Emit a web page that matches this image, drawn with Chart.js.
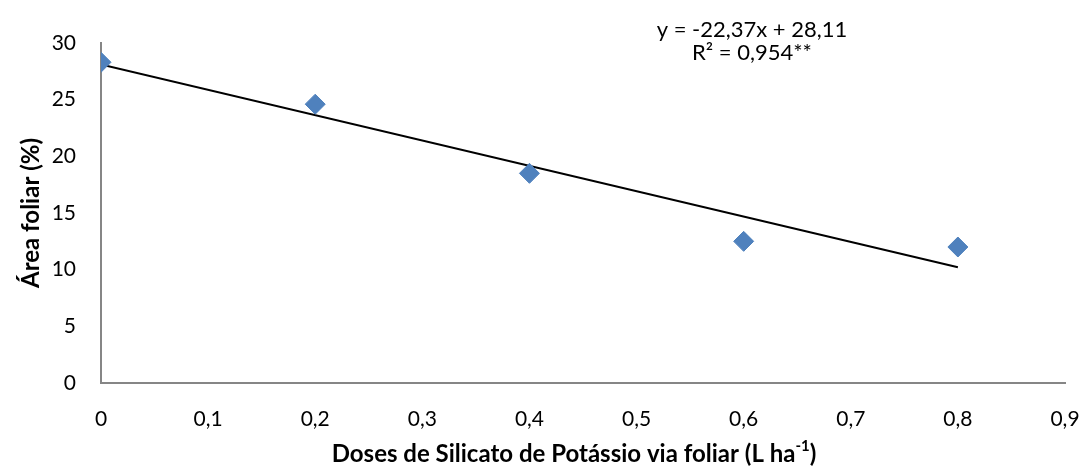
<!DOCTYPE html>
<html>
<head>
<meta charset="utf-8">
<script src="https://cdn.jsdelivr.net/npm/chart.js@4.4.1/dist/chart.umd.min.js"></script>
<style>
  html, body { margin: 0; padding: 0; background: #fff; }
  #wrap { width: 1084px; height: 468px; position: relative; }
</style>
</head>
<body>
<div id="wrap"><canvas id="c" width="1084" height="468"></canvas></div>
<script>
// Doses of potassium silicate (L/ha) and leaf area (%)
const doses = [0, 0.2, 0.4, 0.6, 0.8];
const leafArea = [28.3, 24.6, 18.5, 12.5, 12.0];

// Linear fit y = a*x + b
const fitSlope = -22.37;
const fitIntercept = 28.11;
const fitRange = [0, 0.8];

const eqLines = ['y = -22,37x + 28,11', 'R\u00B2 = 0,954**'];
const yTitle = '\u00C1rea foliar (%)';
const xTitleMain = 'Doses de Silicato de Pot\u00E1ssio via foliar (L ha';
const xTitleSup = '-1';
const xTitleEnd = ')';

const FONT = 'Lato, "Open Sans", sans-serif';
const fmt = v => String(Math.round(v * 10) / 10).replace('.', ',');

const fitPoints = fitRange.map(x => ({ x: x, y: fitSlope * x + fitIntercept }));

const annotations = {
  id: 'annotations',
  afterDraw(chart) {
    const ctx = chart.ctx;
    const ys = chart.scales.y;
    ctx.save();
    ctx.fillStyle = '#000';
    // regression equation
    ctx.font = '22px ' + FONT;
    ctx.textAlign = 'center';
    ctx.textBaseline = 'middle';
    ctx.fillText(eqLines[0], 752, 30);
    ctx.fillText(eqLines[1], 752, 53);
    // y title
    ctx.font = 'bold 24px ' + FONT;
    ctx.translate(31, (ys.top + ys.bottom) / 2);
    ctx.rotate(-Math.PI / 2);
    ctx.fillText(yTitle, 0, 0);
    ctx.setTransform(1, 0, 0, 1, 0, 0);
    // x title with superscript
    const cx = 574;
    const ty = 454;
    ctx.font = 'bold 24px ' + FONT;
    const w1 = ctx.measureText(xTitleMain).width;
    const w3 = ctx.measureText(xTitleEnd).width;
    ctx.font = 'bold 15px ' + FONT;
    const w2 = ctx.measureText(xTitleSup).width;
    const x0 = cx - (w1 + w2 + w3) / 2;
    ctx.textAlign = 'left';
    ctx.font = 'bold 24px ' + FONT;
    ctx.fillText(xTitleMain, x0, ty);
    ctx.font = 'bold 15px ' + FONT;
    ctx.fillText(xTitleSup, x0 + w1, ty - 8);
    ctx.font = 'bold 24px ' + FONT;
    ctx.fillText(xTitleEnd, x0 + w1 + w2, ty);
    ctx.restore();
  }
};

new Chart(document.getElementById('c'), {
  type: 'scatter',
  data: {
    datasets: [
      {
        type: 'line',
        data: fitPoints,
        borderColor: '#000',
        borderWidth: 2,
        pointRadius: 0,
        fill: false,
        order: 2
      },
      {
        data: doses.map((x, i) => ({ x: x, y: leafArea[i] })),
        pointStyle: 'rectRot',
        pointRadius: 10,
        pointHoverRadius: 10,
        backgroundColor: '#4F81BD',
        borderColor: '#4F81BD',
        borderWidth: 1,
        order: 1
      }
    ]
  },
  options: {
    responsive: false,
    animation: false,
    layout: { padding: { top: 43, right: 19, left: 0, bottom: 0 } },
    plugins: { legend: { display: false }, tooltip: { enabled: false } },
    scales: {
      x: {
        type: 'linear',
        min: 0, max: 0.9,
        ticks: { stepSize: 0.1, callback: v => fmt(v), color: '#000', font: { family: FONT, size: 21 }, padding: 24, maxRotation: 0 },
        grid: { display: false, drawTicks: false },
        border: { color: '#868686', width: 2 },
        afterFit(s) { s.height = 85; s.paddingLeft = 0; s.paddingRight = 0; }
      },
      y: {
        min: 0, max: 30,
        ticks: { stepSize: 5, color: '#000', font: { family: FONT, size: 21 }, padding: 25 },
        grid: { display: false, drawTicks: false },
        border: { color: '#868686', width: 2 },
        afterFit(s) { s.width = 101; s.paddingTop = 0; s.paddingBottom = 0; }
      }
    }
  },
  plugins: [annotations]
});
</script>
</body>
</html>
